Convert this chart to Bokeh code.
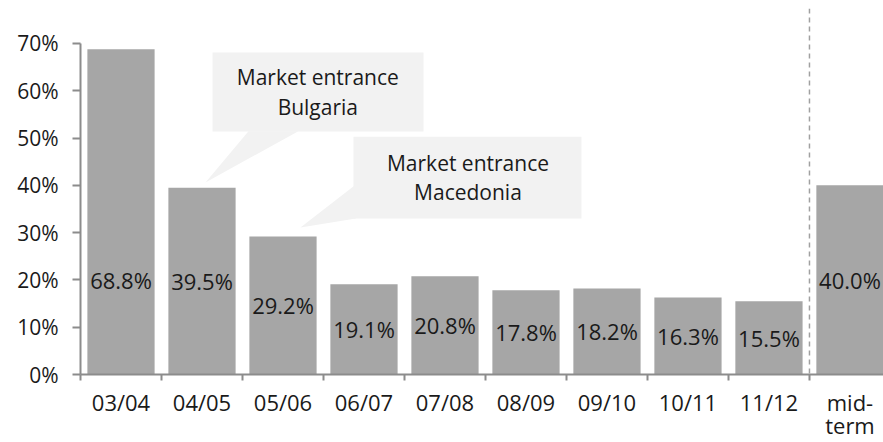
from bokeh.plotting import figure
from bokeh.models import FixedTicker, Span, ColumnDataSource, LinearAxis
from bokeh.core.properties import value
from bokeh.embed import file_html
from bokeh.resources import INLINE

# ---- data ----
categories = ["03/04", "04/05", "05/06", "06/07", "07/08", "08/09", "09/10", "10/11", "11/12", "mid-term"]
shares = [68.8, 39.5, 29.2, 19.1, 20.8, 17.8, 18.2, 16.3, 15.5, 40.0]
y_ticks = [0, 10, 20, 30, 40, 50, 60, 70]
y_tick_labels = ["0%", "10%", "20%", "30%", "40%", "50%", "60%", "70%"]
x_tick_labels = ["03/04", "04/05", "05/06", "06/07", "07/08", "08/09", "09/10", "10/11", "11/12", "mid-"]
x_tick_labels_line2 = ["", "", "", "", "", "", "", "", "", "term"]
callout_texts = ["Market entrance\nBulgaria", "Market entrance\nMacedonia"]

FONT = "Open Sans"
TXT = "#1a1a1a"
AX = "#8c8c8c"
BAR = "#a6a6a6"
BOX = "#f2f2f2"

n = len(categories)
xc = [i + 0.5 for i in range(n)]
label_y = [min(v, 40.0) / 2 for v in shares]
label_txt = [f"{v:.1f}%" for v in shares]

src = ColumnDataSource(dict(x=xc, top=shares, ly=label_y, lt=label_txt, cat=categories))

p = figure(width=883, height=442, x_range=(0, 9.914), y_range=(0, 77.4),
           output_backend="svg", toolbar_location=None,
           min_border_left=80, min_border_right=0, min_border_top=8, min_border_bottom=68)
p.xgrid.visible = False
p.ygrid.visible = False
p.outline_line_color = None
p.background_fill_color = "white"
p.border_fill_color = "white"

# callout boxes and pointers (annotation geometry)
p.quad(left=[1.63, 3.37], right=[4.235, 6.185], top=[68.1, 50.3], bottom=[51.4, 33.0],
       fill_color=BOX, line_color=None)
p.patches(xs=[[2.074, 2.69, 1.543], [2.716, 3.40, 3.40]],
          ys=[[51.45, 51.45, 40.6], [31.1, 40.2, 33.0]],
          fill_color=BOX, line_color=None)
p.text(x=[2.93, 4.784], y=[59.7, 41.7], text=callout_texts,
       text_align="center", text_baseline="middle", text_line_height=1.05,
       text_font=value(FONT), text_font_size="21px", text_color=TXT)

# bars
p.vbar(x="x", top="top", width=0.83, bottom=0, source=src, fill_color=BAR, line_color=None)
p.text(x="x", y="ly", text="lt", source=src, text_align="center", text_baseline="middle",
       text_font=value(FONT), text_font_size="22px", text_color=TXT)

# dashed separator
p.add_layout(Span(location=9, dimension="height", line_color="#a0a0a0",
                  line_width=1.5, line_dash="5 4"))

# axes
xa = p.xaxis[0]
xa.ticker = FixedTicker(ticks=xc, minor_ticks=list(range(n)))
xa.major_label_overrides = {xv: lab for xv, lab in zip(xc, x_tick_labels)}
xa.major_tick_out = 0
xa.major_tick_in = 0
xa.minor_tick_out = 6
xa.minor_tick_in = 0
xa.minor_tick_line_color = AX
xa.minor_tick_line_width = 2
xa.axis_line_color = AX
xa.axis_line_width = 2
xa.major_label_standoff = 6
xa.major_label_text_font = FONT
xa.major_label_text_font_size = "22px"
xa.major_label_text_color = TXT

# second line of the category labels ("mid-" / "term")
xc2 = [xv for xv, lab in zip(xc, x_tick_labels_line2) if lab]
xa2 = LinearAxis(ticker=FixedTicker(ticks=xc2, minor_ticks=[]),
                 major_label_overrides={xv: lab for xv, lab in zip(xc, x_tick_labels_line2) if lab})
xa2.axis_line_color = None
xa2.major_tick_line_color = None
xa2.minor_tick_line_color = None
xa2.major_tick_out = 0
xa2.major_tick_in = 0
xa2.minor_tick_out = 0
xa2.minor_tick_in = 0
xa2.major_label_standoff = -10
xa2.major_label_text_font = FONT
xa2.major_label_text_font_size = "22px"
xa2.major_label_text_color = TXT
p.add_layout(xa2, "below")

ya = p.yaxis[0]
ya.ticker = FixedTicker(ticks=y_ticks, minor_ticks=[])
ya.major_label_overrides = {t: lab for t, lab in zip(y_ticks, y_tick_labels)}
ya.bounds = (0, 70)
ya.major_tick_out = 8
ya.major_tick_in = 0
ya.minor_tick_out = 0
ya.minor_tick_in = 0
ya.major_tick_line_color = AX
ya.major_tick_line_width = 2
ya.axis_line_color = AX
ya.axis_line_width = 2
ya.major_label_standoff = 14
ya.major_label_text_font = FONT
ya.major_label_text_font_size = "21px"
ya.major_label_text_color = TXT

open("out.html", "w").write(file_html(p, INLINE))
